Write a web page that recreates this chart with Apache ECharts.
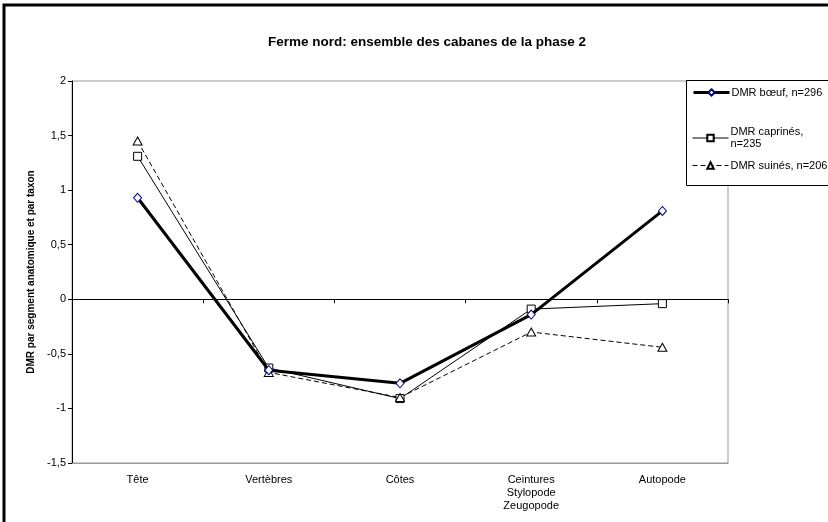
<!DOCTYPE html>
<html>
<head>
<meta charset="utf-8">
<script src="https://cdn.jsdelivr.net/npm/echarts@6/dist/echarts.min.js"></script>
<style>
html,body{margin:0;padding:0;background:#fff;}
#c{width:828px;height:522px;}
</style>
</head>
<body>
<div id="c"></div>
<script>
const categories = ['Tête', 'Vertèbres', 'Côtes', 'Ceintures\nStylopode\nZeugopode', 'Autopode'];
const boeuf = [0.93, -0.65, -0.77, -0.14, 0.81];
const caprines = [1.31, -0.63, -0.91, -0.09, -0.04];
const suines = [1.45, -0.67, -0.90, -0.30, -0.44];
const seriesNames = ['DMR bœuf, n=296', 'DMR caprinés, n=235', 'DMR suinés, n=206'];
const yTicks = { min: -1.5, max: 2, interval: 0.5 };

const chart = echarts.init(document.getElementById('c'), null, { renderer: 'canvas' });
const font = 'Liberation Sans, Arial, sans-serif';
const legendCommon = {
  orient: 'vertical',
  left: 692,
  itemWidth: 36,
  itemHeight: 8,
  itemGap: 0,
  padding: 0,
  textStyle: { fontFamily: font, fontSize: 11, color: '#000', padding: [0, 0, 0, -3] }
};
chart.setOption({
  backgroundColor: '#fff',
  animation: false,
  title: {
    text: 'Ferme nord: ensemble des cabanes de la phase 2',
    left: 263,
    top: 30,
    textStyle: { fontFamily: font, fontSize: 13.5, fontWeight: 'bold', color: '#000' }
  },
  graphic: [
    { type: 'rect', shape: { x: 4, y: 5, width: 900, height: 600 }, style: { fill: 'none', stroke: '#000', lineWidth: 3 }, silent: true },
    { type: 'rect', shape: { x: 686.5, y: 80.5, width: 200, height: 105 }, style: { fill: '#fff', stroke: '#000', lineWidth: 1 }, silent: true, z: 1 }
  ],
  legend: [
    Object.assign({}, legendCommon, { top: 87, data: [{ name: seriesNames[0], lineStyle: { width: 3, color: '#000' } }] }),
    Object.assign({}, legendCommon, {
      top: 120, data: [{ name: seriesNames[1], lineStyle: { width: 1, color: '#000' } }],
      formatter: function () { return 'DMR caprinés,\nn=235'; },
      textStyle: { fontFamily: font, fontSize: 11, color: '#000', lineHeight: 12, padding: [12, 0, 0, -3] }
    }),
    Object.assign({}, legendCommon, { top: 160, data: [{ name: seriesNames[2], lineStyle: { width: 1, color: '#000', type: [5, 3] } }] })
  ],
  grid: {
    left: 72, top: 81, width: 656, height: 382,
    show: true, borderColor: '#999', borderWidth: 1, backgroundColor: '#fff'
  },
  xAxis: [
    {
      type: 'category', data: categories, position: 'bottom',
      boundaryGap: true,
      axisLine: { onZero: false, lineStyle: { color: '#999', width: 1 } },
      axisTick: { show: false },
      axisLabel: { fontFamily: font, fontSize: 11, color: '#000', margin: 10, lineHeight: 13, interval: 0 }
    },
    {
      type: 'category', data: categories, position: 'bottom',
      boundaryGap: true,
      axisLine: { onZero: true, lineStyle: { color: '#000', width: 1 } },
      axisTick: { show: true, length: 4, lineStyle: { color: '#000' } },
      axisLabel: { show: false }
    }
  ],
  yAxis: {
    type: 'value', min: yTicks.min, max: yTicks.max, interval: yTicks.interval,
    name: 'DMR par segment anatomique et par taxon',
    nameLocation: 'middle', nameGap: 35,
    nameTextStyle: { fontFamily: font, fontSize: 10, fontWeight: 'bold', color: '#000' },
    axisLine: { show: true, onZero: false, lineStyle: { color: '#000', width: 1 } },
    axisTick: { show: true, length: 4, lineStyle: { color: '#000' } },
    splitLine: { show: false },
    axisLabel: {
      fontFamily: font, fontSize: 11, color: '#000', margin: 6,
      formatter: function (v) { return String(v).replace('.', ','); }
    }
  },
  series: [
    {
      name: seriesNames[0], type: 'line', data: boeuf, xAxisIndex: 0,
      symbol: 'diamond', symbolSize: [8, 9], showAllSymbol: true,
      lineStyle: { color: '#000', width: 3 },
      itemStyle: { color: '#fff', borderColor: '#000080', borderWidth: 1 },
      z: 3
    },
    {
      name: seriesNames[1], type: 'line', data: caprines, xAxisIndex: 0,
      symbol: 'rect', symbolSize: 8,
      lineStyle: { color: '#000', width: 1 },
      itemStyle: { color: '#fff', borderColor: '#000', borderWidth: 1 },
      z: 2
    },
    {
      name: seriesNames[2], type: 'line', data: suines, xAxisIndex: 0,
      symbol: 'triangle', symbolSize: [9, 8],
      lineStyle: { color: '#000', width: 1, type: [5, 3] },
      itemStyle: { color: '#fff', borderColor: '#000', borderWidth: 1 },
      z: 2
    }
  ]
});
</script>
</body>
</html>
